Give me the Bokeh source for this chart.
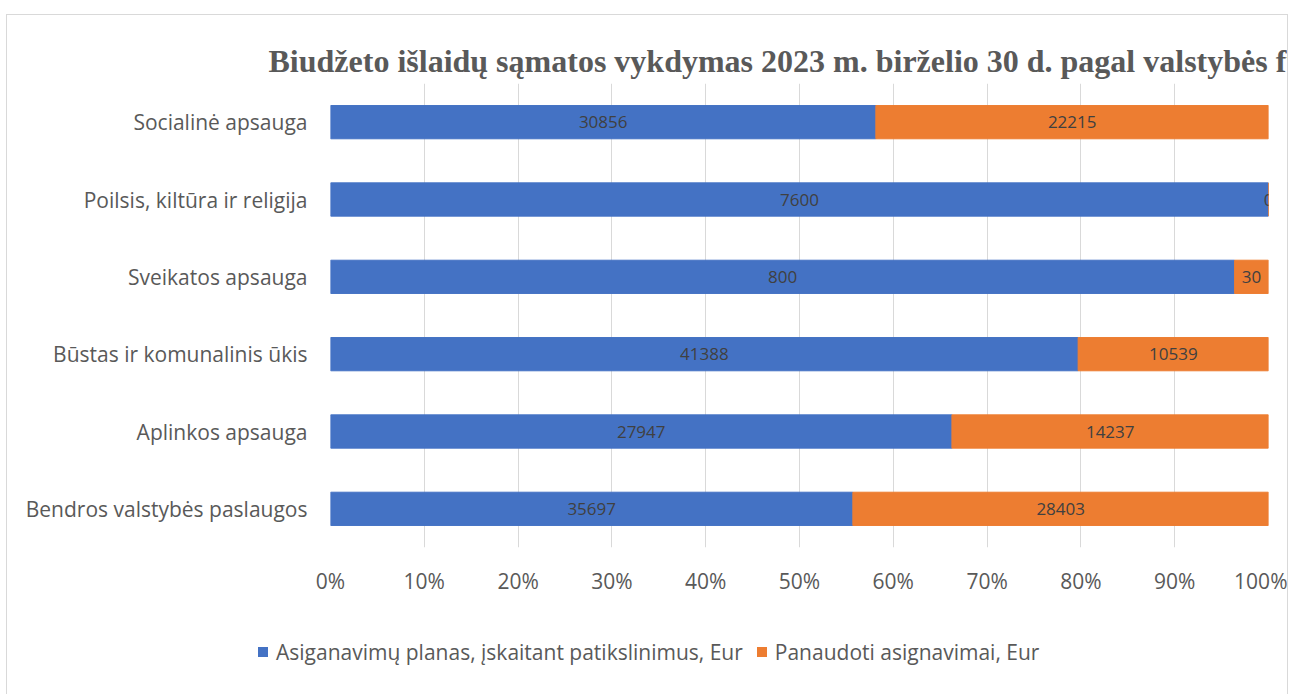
from bokeh.plotting import figure
from bokeh.layouts import column
from bokeh.models import (FactorRange, ColumnDataSource, Div,
                          FixedTicker, CustomJSTickFormatter, Range1d)
from bokeh.core.properties import value
from bokeh.embed import file_html
from bokeh.resources import INLINE

title_text = "Biudžeto išlaidų sąmatos vykdymas 2023 m. birželio 30 d. pagal valstybės funkcijas"
categories = ["Socialinė apsauga", "Poilsis, kiltūra ir religija", "Sveikatos apsauga",
              "Būstas ir komunalinis ūkis", "Aplinkos apsauga", "Bendros valstybės paslaugos"]
planas = [30856, 7600, 800, 41388, 27947, 35697]
panaudoti = [22215, 0, 30, 10539, 14237, 28403]
series_names = ["Asiganavimų planas, įskaitant patikslinimus, Eur", "Panaudoti asignavimai, Eur"]
ticks = [0, 0.1, 0.2, 0.3, 0.4, 0.5, 0.6, 0.7, 0.8, 0.9, 1.0]

BLUE = "#4472C4"
ORANGE = "#ED7D31"
FONT = "Open Sans"
TXT = "#595959"

tot = [a + b for a, b in zip(planas, panaudoti)]
f1 = [a / t for a, t in zip(planas, tot)]
f2 = [b / t for b, t in zip(panaudoti, tot)]

src = ColumnDataSource(dict(
    cat=categories, f1=f1, f2=f2, end=[1.0] * len(categories),
    c1=[a / 2 for a in f1], c2=[a + b / 2 for a, b in zip(f1, f2)],
    l1=[str(v) for v in planas], l2=[str(v) for v in panaudoti],
))

p = figure(width=1280, height=610, output_backend="svg", toolbar_location=None,
           y_range=FactorRange(*reversed(categories), range_padding=0),
           x_range=Range1d(0, 1),
           min_border_left=323, min_border_right=19, min_border_top=68, min_border_bottom=78)
p.outline_line_color = None
p.background_fill_color = "white"
p.border_fill_color = "white"

p.title.text = title_text
p.title.align = "left"
p.title.offset = -62
p.title.standoff = 10
p.title.text_font = "Liberation Serif"
p.title.text_font_style = "bold"
p.title.text_font_size = "32px"
p.title.text_color = TXT

r1 = p.hbar(y="cat", left=0, right="f1", height=0.43, color=BLUE, source=src)
r2 = p.hbar(y="cat", left="f1", right="end", height=0.43, color=ORANGE, source=src)

p.text(x="c1", y="cat", text="l1", source=src, text_align="center", text_baseline="middle",
       text_font=value(FONT), text_font_size="17px", text_color="#404040")
p.text(x="c2", y="cat", text="l2", source=src, text_align="center", text_baseline="middle",
       text_font=value(FONT), text_font_size="17px", text_color="#404040")

p.xaxis.ticker = FixedTicker(ticks=ticks)
p.xaxis.formatter = CustomJSTickFormatter(code="return Math.round(tick*100) + '%';")
p.xaxis.axis_line_color = None
p.xaxis.major_tick_line_color = None
p.xaxis.minor_tick_line_color = None
p.xaxis.major_label_text_font = FONT
p.xaxis.major_label_text_font_size = "21px"
p.xaxis.major_label_text_color = TXT
p.xaxis.major_label_standoff = 13

p.yaxis.axis_line_color = None
p.yaxis.major_tick_line_color = None
p.yaxis.minor_tick_line_color = None
p.yaxis.major_label_text_font = FONT
p.yaxis.major_label_text_font_size = "21px"
p.yaxis.major_label_text_color = TXT
p.yaxis.major_label_standoff = 17

p.xgrid.grid_line_color = "#d9d9d9"
p.ygrid.grid_line_color = None

# legend strip below the chart (HTML, so it can sit outside the plot frame)
def item(color, label, first):
    ml = "0" if first else "14px"
    return (f'<span style="display:inline-block;width:10px;height:10px;background:{color};'
            f'margin-left:{ml};margin-right:8px;"></span><span>{label}</span>')

legend_html = (
    f'<div style="position:relative;width:1280px;height:75px;font-family:\'{FONT}\';'
    f'font-size:21px;color:{TXT};">'
    f'<div style="position:absolute;left:251px;top:13px;height:28px;line-height:28px;'
    f'white-space:nowrap;display:flex;align-items:center;">'
    + item(BLUE, series_names[0], True) + item(ORANGE, series_names[1], False)
    + '</div></div>'
)
legend_div = Div(text=legend_html, width=1280, height=75, margin=0)

layout = column(p, legend_div, spacing=0,
                styles={"border": "1px solid #d9d9d9", "margin-left": "6px", "margin-top": "14px",
                        "background-color": "white"})

open("out.html", "w").write(file_html(layout, INLINE))
